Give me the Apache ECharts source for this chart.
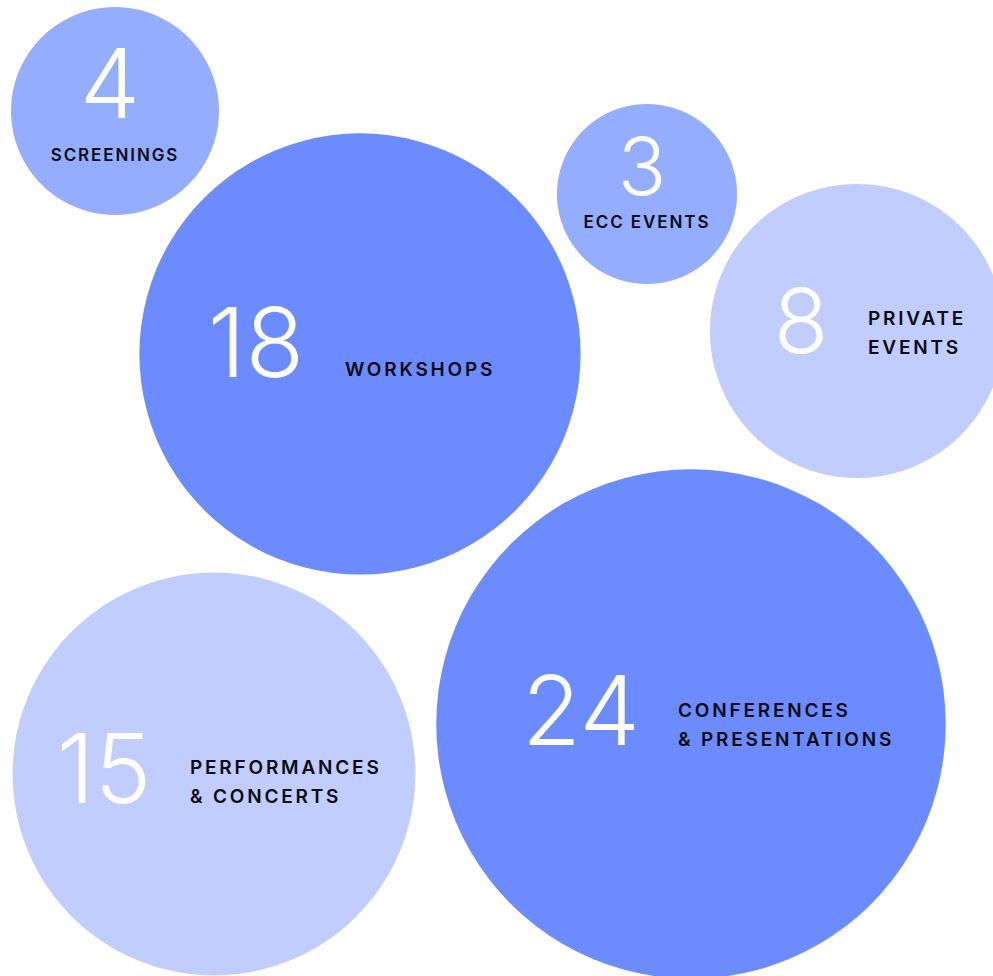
<!DOCTYPE html>
<html>
<head>
<meta charset="utf-8">
<script src="https://cdn.jsdelivr.net/npm/echarts@6/dist/echarts.min.js"></script>
<style>
  html, body { margin: 0; padding: 0; background: #ffffff; }
  #chart { width: 993px; height: 976px; }
  /* spaced capitals for the category names */
  #chart text[fill="#0b0b12"], #chart text[fill="rgb(11,11,18)"] { letter-spacing: 2.8px; }
  #chart text[fill="#0b0b13"], #chart text[fill="rgb(11,11,19)"] { letter-spacing: 1.9px; }
</style>
</head>
<body>
<div id="chart"></div>
<script>
// Event counts by category
const categories = ['SCREENINGS', 'WORKSHOPS', 'ECC EVENTS', 'PRIVATE\nEVENTS', 'PERFORMANCES\n& CONCERTS', 'CONFERENCES\n& PRESENTATIONS'];
const counts = [4, 18, 3, 8, 15, 24];

// Bubble placement (pixel space of the plot) and label arrangement
const centers = [[115, 111], [360, 354], [647, 194], [857, 331], [214, 774], [691, 724]];
const numberOffsets = [[-5, -28], [-104, -12], [-5, -29], [-56, -11], [-110, -6], [-110, -14]];
const numberSizes = [96, 96, 80, 90, 96, 96];
const nameOffsets = [[0, 44], [-15, 15], [0, 28], [11, 2], [-24, 7.5], [-13, 0.5]];
const nameAligns = ['center', 'left', 'center', 'left', 'left', 'left'];
const nameSizes = [17, 19, 17, 19, 19, 19];
const nameInks = ['#0b0b13', '#0b0b12', '#0b0b13', '#0b0b12', '#0b0b12', '#0b0b12'];
const fills = ['#95adfe', '#6b8bff', '#95adfe', '#c0cdfe', '#c0cdfe', '#6b8bff'];

const W = 993, H = 976;
const PX_PER_SQRT = 104; // bubble diameter per sqrt(count)

const chart = echarts.init(document.getElementById('chart'), null, { renderer: 'svg' });

const bubbleData = counts.map((v, i) => ({
  value: [centers[i][0], centers[i][1], v],
  itemStyle: { color: fills[i], opacity: 1 },
  label: { fontSize: numberSizes[i], offset: numberOffsets[i] }
}));

const nameData = categories.map((c, i) => ({
  name: c,
  value: [centers[i][0], centers[i][1]],
  label: { align: nameAligns[i], offset: nameOffsets[i], fontSize: nameSizes[i], color: nameInks[i] }
}));

chart.setOption({
  animation: false,
  backgroundColor: '#ffffff',
  grid: { left: 0, right: 0, top: 0, bottom: 0, containLabel: false },
  xAxis: { type: 'value', min: 0, max: W, show: false },
  yAxis: { type: 'value', min: 0, max: H, inverse: true, show: false },
  series: [
    {
      type: 'scatter',
      clip: false,
      silent: true,
      data: bubbleData,
      symbol: 'circle',
      symbolSize: (val) => PX_PER_SQRT * Math.sqrt(val[2]),
      itemStyle: { opacity: 1 },
      label: {
        show: true,
        position: 'inside',
        formatter: (p) => String(p.value[2]),
        color: '#ffffff',
        opacity: 1,
        fontFamily: 'Inter',
        fontWeight: 300,
        align: 'center',
        verticalAlign: 'middle'
      },
      emphasis: { disabled: true }
    },
    {
      type: 'scatter',
      clip: false,
      silent: true,
      data: nameData,
      symbolSize: 0,
      itemStyle: { color: 'rgba(0,0,0,0)', opacity: 1 },
      label: {
        show: true,
        position: 'inside',
        formatter: '{b}',
        opacity: 1,
        fontFamily: 'Inter',
        fontWeight: 600,
        lineHeight: 29,
        verticalAlign: 'middle'
      },
      emphasis: { disabled: true }
    }
  ]
});
</script>
</body>
</html>
